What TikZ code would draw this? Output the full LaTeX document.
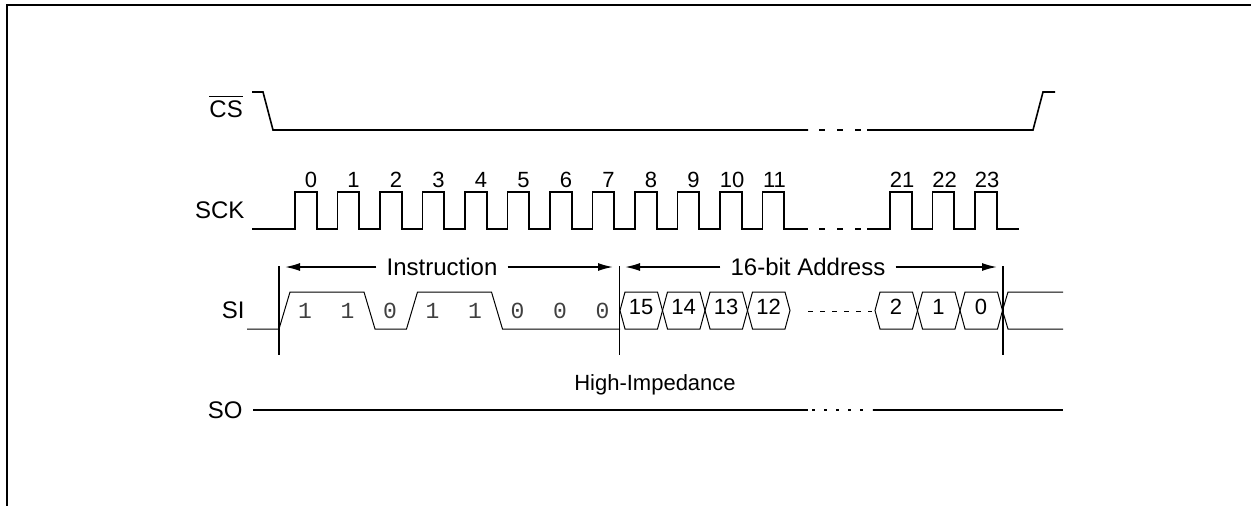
\documentclass[tikz,border=0pt]{standalone}
\usepackage{fontspec}
\setmainfont{Liberation Sans}
\newfontfamily\bitfont{Liberation Mono}
\usetikzlibrary{arrows.meta}

\tikzset{
	sig/.style={line width=1.6pt},
	thinsig/.style={line width=1pt},
	lbl/.style={font=\fontsize{24}{28}\selectfont},
	num/.style={font=\fontsize{22}{26}\selectfont},
	bit/.style={font=\bitfont\fontsize{23}{27}\selectfont, text=black!75},
	span/.style={sig, -{Latex[length=15pt,width=8pt]}},
}

\begin{document}
\begin{tikzpicture}[x=1pt,y=-1pt]
	\useasboundingbox (0,0) rectangle (1251,506);
	\draw[line width=2pt] (1251,5) -- (7,5) -- (7,506);
	
	% chip select
	\node[lbl, anchor=east, inner sep=0pt] (cs) at (243,109) {CS};
	\draw[thinsig] ([yshift=4pt]cs.north west) -- ([yshift=4pt]cs.north east);
	\draw[sig] (252,92) -- (263,92) -- (273,130) -- (808,130);
	\foreach \x in {819,837,855} \draw[sig] (\x,130) -- ++(6,0);
	\draw[sig] (867,130) -- (1033,130) -- (1043,92) -- (1055,92);
	
	% clock
	\node[lbl, anchor=east] (sck) at (248,210) {SCK};
	\draw[sig] (252,229) \foreach \k in {0,...,11}{ -- ({295+42.5*\k},229) -- ++(0,-37) -- ++(21.7,0) -- ++(0,37)} -- (808,229);
	\foreach \x in {819,837,855} \draw[sig] (\x,229) -- ++(6,0);
	\draw[sig] (867,229) \foreach \k in {14,15,16}{ -- ({295+42.5*\k},229) -- ++(0,-37) -- ++(21.7,0) -- ++(0,37)} -- (1019,229);
	\foreach \k in {0,...,9} \node[num] (c\k) at ({311+42.5*\k},180) {\k};
	\foreach \k/\n in {10/10, 11/11, 14/21, 15/22, 16/23} \node[num] (c\n) at ({307+42.5*\k},180) {\n};
	
	% serial in
	\node[lbl, anchor=east] (si) at (248,310) {SI};
	\draw[thinsig] (247,329) -- (279,329) -- (290,292) -- (364,292) -- (375,329) -- (406.5,329) -- (417.5,292) -- (491.5,292) -- (502.5,329) -- (620,329);
	\foreach \b [count=\k from 0] in {1,1,0,1,1,0,0,0} \node[bit] (b\k) at ({305+42.5*\k},311) {\b};
	\foreach \n/\j in {15/0, 14/1, 13/2, 12/3, 2/6, 1/7, 0/8}{
		\draw[thinsig] ({620+42.5*\j},310.5) -- ++(5,-18.5) -- ++(32.5,0) -- ++(5,18.5) -- ++(-5,18.5) -- ++(-32.5,0) -- cycle;
		\node[num] (a\n) at ({641+42.5*\j},307) {\n};
	}
	\draw[thinsig, dash pattern=on 5pt off 7pt] (808,311) -- (872,311);
	\draw[thinsig] (1063,292) -- (1008,292) -- (1002.5,310.5) -- (1008,329) -- (1063,329);
	\foreach \x in {279,619.5,1003} \draw[sig] (\x,266) -- (\x,355);
	
	% instruction and address spans
	\node[lbl, inner xsep=10pt] (instr) at (442,267) {Instruction};
	\node[lbl, inner xsep=10pt] (addr) at (808,267) {16-bit Address};
	\coordinate (instrL) at (285,267);
	\coordinate (instrR) at (613,267);
	\coordinate (addrL) at (625,267);
	\coordinate (addrR) at (997,267);
	\draw[span] (instr.west) -- (instrL);
	\draw[span] (instr.east) -- (instrR);
	\draw[span] (addr.west) -- (addrL);
	\draw[span] (addr.east) -- (addrR);
	
	% serial out
	\node[lbl, anchor=east] (so) at (246,410) {SO};
	\node[num] (hiz) at (655,385) {High-Impedance};
	\draw[sig] (253,410) -- (808,410);
	\draw[sig, dash pattern=on 3pt off 9pt] (812,410) -- (872,410);
	\draw[sig] (873,410) -- (1063,410);
\end{tikzpicture}
\end{document}
